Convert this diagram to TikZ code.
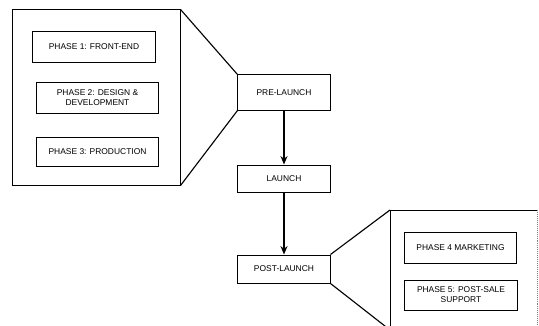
\documentclass[tikz,border=0pt]{standalone}
\usepackage{fontspec}
\setmainfont{Liberation Sans}
\usetikzlibrary{arrows.meta}

\begin{document}
\begin{tikzpicture}[x=0.025cm, y=-0.025cm,
    phasebox/.style={draw, line width=0.7pt, align=center, inner sep=1pt,
        font=\fontsize{6}{7}\selectfont},
    stagebox/.style={draw, line width=0.7pt, minimum width=2.3cm,
        font=\fontsize{6}{7}\selectfont},
    zoomline/.style={line width=0.8pt},
    flow/.style={line width=1pt, -{Stealth[length=6pt, width=5pt]}}]

    % Fix the page size
    \useasboundingbox (0,0) rectangle (539,326);

    % Draw the pre-launch detail box
    \node[draw, line width=0.7pt, minimum width=4.175cm, minimum height=4.375cm] (preDetail) at (96.5,97.5) {};
    \node[phasebox, minimum width=3.05cm, minimum height=0.75cm] (phaseOne) at (94,47) {PHASE 1: FRONT-END};
    \node[phasebox, minimum width=3.025cm, minimum height=0.75cm] (phaseTwo) at (97.5,98) {PHASE 2: DESIGN \&\\DEVELOPMENT};
    \node[phasebox, minimum width=3.025cm, minimum height=0.725cm] (phaseThree) at (97.5,151.5) {PHASE 3: PRODUCTION};

    % Draw the three stages
    \node[stagebox, minimum height=0.875cm] (preLaunch) at (284,92.5) {PRE-LAUNCH};
    \node[stagebox, minimum height=0.675cm] (launch) at (284,178.5) {LAUNCH};
    \node[stagebox, minimum height=0.7cm] (postLaunch) at (284,269) {POST-LAUNCH};

    % Draw the arrows between stages
    \draw[flow] (preLaunch) -- (launch);
    \draw[flow] (launch) -- (postLaunch);

    % Lines from the pre-launch detail to its stage
    \draw[zoomline] (preDetail.north east) -- (preLaunch.north west);
    \draw[zoomline] (preDetail.south east) -- (preLaunch.south west);

    % Define the corners of the post-launch detail box (cut off at the bottom)
    \coordinate (postTL) at (390,210);
    \coordinate (postTR) at (537,210);
    \coordinate (postBL) at (390,330);
    \coordinate (postBR) at (537,330);

    % Draw the post-launch detail box
    \draw[line width=0.7pt] (postBL) -- (postTL) -- (postTR);
    \draw[line width=0.4pt, gray, densely dotted] (postTR) -- (postBR);
    \node[phasebox, minimum width=2.775cm, minimum height=0.775cm] (phaseFour) at (460.5,247.5) {PHASE 4 MARKETING};
    \node[phasebox, minimum width=2.8cm, minimum height=0.75cm] (phaseFive) at (461,295) {PHASE 5: POST-SALE\\SUPPORT};

    % Lines from the post-launch stage to its detail
    \draw[zoomline] (postLaunch.north east) -- (postTL);
    \draw[zoomline] (postLaunch.south east) -- (postBL);

\end{tikzpicture}
\end{document}
